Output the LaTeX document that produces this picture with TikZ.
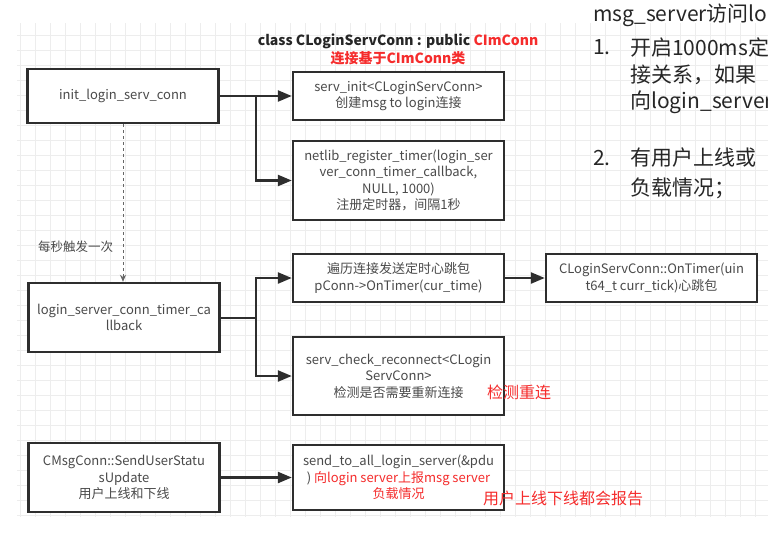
\documentclass[tikz,border=0pt]{standalone}
\usepackage{fontspec}
\setmainfont{Noto Sans CJK SC}
\usetikzlibrary{arrows.meta}
\definecolor{boxline}{HTML}{2E2E2E}
\definecolor{boxtext}{HTML}{4A4A4A}
\definecolor{notered}{HTML}{F52C2C}
\tikzset{gridline/.style={draw=black!7, line width=0.7pt},
fnbox/.style={ % Sets the properties for each function box
draw=boxline,
line width=2.4pt,
fill=white,
text=boxtext,
align=center,
inner sep=2pt,
font=\fontsize{13}{16.5}\selectfont},
leftbox/.style={fnbox, minimum width=191pt},
rightbox/.style={fnbox, minimum width=211pt},
link/.style={ % Solid call arrows
draw=boxline,
line width=2.4pt,
arrows={-Triangle[length=14pt,width=11pt]}},
trigger/.style={draw=black!60, line width=1pt, dashed, arrows={-Stealth[length=7pt,width=6pt]}},
remark/.style={text=notered, font=\fontsize{16}{18}\selectfont},
note/.style={anchor=west, inner sep=0pt, text=black!85, font=\fontsize{21}{25}\selectfont}}

\begin{document}
\begin{tikzpicture}[x=1pt, y=1pt, yscale=-1] % one unit is one pixel of the picture
\useasboundingbox (0,0) rectangle (768,536);
% background grid
\foreach \gx in {20,35,...,765} \draw[gridline] (\gx,23) -- (\gx,517);
\foreach \gy in {35,50,...,515} \draw[gridline] (17,\gy) -- (768,\gy);

\node[font=\bfseries\fontsize{14}{17}\selectfont, text=black!85] (title) at (398,41) {class CLoginServConn : public \textcolor{notered}{CImConn}};
\node[font=\bfseries\fontsize{14}{17}\selectfont, text=notered] (titlesub) at (398,58) {连接基于CImConn类};

\node[leftbox, minimum height=54pt] (init) at (123,96) {init\_login\_serv\_conn};
\node[rightbox, minimum height=48pt] (srvinit) at (398.5,96) {serv\_init<CLoginServConn>\\创建msg to login连接};
\node[rightbox, minimum height=79pt] (netlib) at (398.5,180.5) {netlib\_register\_timer(login\_ser\\ver\_conn\_timer\_callback,\\NULL, 1000)\\注册定时器，间隔1秒};

\node[leftbox, minimum height=69pt] (timer) at (124,317.5) {login\_server\_conn\_timer\_ca\\llback};
\node[rightbox, minimum height=48pt] (trav) at (398.5,278) {遍历连接发送定时心跳包\\pConn->OnTimer(cur\_time)};
\node[rightbox, minimum height=48pt] (ontimer) at (651.5,278) {CLoginServConn::OnTimer(uin\\t64\_t curr\_tick)心跳包};
\node[rightbox, minimum height=78pt] (check) at (398.5,376) {serv\_check\_reconnect<CLogin\\ServConn>\\检测是否需要重新连接};
\node[remark] (recon) at (519,392) {检测重连};

\node[leftbox, minimum height=69pt] (msgconn) at (124,477.5) {CMsgConn::SendUserStatu\\sUpdate\\用户上线和下线};
\node[rightbox, minimum height=65pt] (send) at (398.5,477.5) {send\_to\_all\_login\_server(\&pdu\\) \textcolor{notered}{向login server上报msg server}\\\textcolor{notered}{负载情况}};
\node[remark] (report) at (563,498) {用户上线下线都会报告};

\coordinate (j1) at (256,96);
\coordinate (j2) at (256,318);
\draw[link] (init.east) -- (j1) -- (srvinit.west);
\draw[link] (j1) |- (netlib.west);
\draw[trigger] (init.south) -- (init.south |- timer.north) node[pos=0.78, left=6pt, text=boxtext, font=\fontsize{12.5}{15}\selectfont] {每秒触发一次};
\draw[link] (timer.east |- j2) -- (j2) |- (trav.west);
\draw[link] (j2) |- (check.west);
\draw[link] (trav) -- (ontimer);
\draw[link] (msgconn) -- (send);

% notes on the right, cut off by the page edge
\node[note] (head) at (593,15) {msg\_server访问lo};
\node[note] (n1) at (593,47) {1.};
\node[note] (n1a) at (630,47) {开启1000ms定};
\node[note] (n1b) at (630,75) {接关系，如果};
\node[note] (n1c) at (630,102) {向login\_server};
\node[note] (n2) at (593,158) {2.};
\node[note] (n2a) at (630,158) {有用户上线或};
\node[note] (n2b) at (630,188) {负载情况；};
\end{tikzpicture}
\end{document}
